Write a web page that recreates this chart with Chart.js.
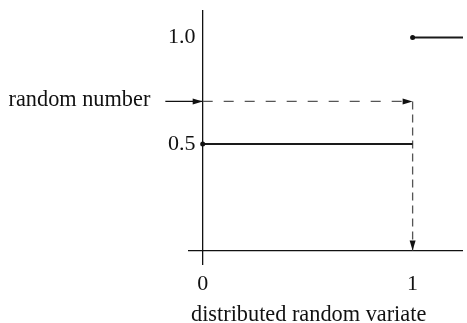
<!DOCTYPE html>
<html>
<head>
<meta charset="utf-8">
<script src="https://cdn.jsdelivr.net/npm/chart.js@4/dist/chart.umd.min.js"></script>
<style>
html,body{margin:0;padding:0;background:#fff;}
canvas{display:block;}
</style>
</head>
<body>
<canvas id="c" width="467" height="323"></canvas>
<script>
// ---- data ----
const xTicks = [0, 1];
const xTickLabels = ['0', '1'];
const yTicks = [0.5, 1.0];
const yTickLabels = ['0.5', '1.0'];
const axisOrigin = 0;
const cdfLow = [{x: 0, y: 0.5}, {x: 1, y: 0.5}];
const cdfHigh = [{x: 1, y: 1.0}, {x: 1.24, y: 1.0}];
const randomNumber = 0.7;
const variate = 1;
const inputArrowStart = -0.178;
const inputLabel = 'random number';
const xTitle = 'distributed random variate';
const xRange = [-0.07, 1.24];
const yRange = [-0.068, 1.129];

const FONT = '"Liberation Serif", "Times New Roman", serif';
const INK = '#111';

const annot = {
  id: 'annot',
  afterDatasetsDraw(chart) {
    const ctx = chart.ctx;
    chart.data.datasets.forEach((ds, i) => {
      if (!ds.arrow) return;
      const pts = chart.getDatasetMeta(i).data;
      const a = pts[pts.length - 2], b = pts[pts.length - 1];
      const ang = Math.atan2(b.y - a.y, b.x - a.x);
      ctx.save();
      ctx.translate(b.x, b.y);
      ctx.rotate(ang);
      ctx.beginPath();
      ctx.moveTo(0, 0);
      ctx.lineTo(-10, -3);
      ctx.lineTo(-10, 3);
      ctx.closePath();
      ctx.fillStyle = INK;
      ctx.fill();
      ctx.restore();
    });
    const xs = chart.scales.x, ys = chart.scales.y;
    ctx.save();
    ctx.font = '22.3px ' + FONT;
    ctx.fillStyle = INK;
    ctx.textBaseline = 'alphabetic';
    ctx.textAlign = 'right';
    ctx.fillText(inputLabel, xs.getPixelForValue(inputArrowStart) - 15, ys.getPixelForValue(randomNumber) + 5);
    ctx.textAlign = 'left';
    ctx.fillText(xTitle, xs.left + 3, chart.height - 2);
    ctx.restore();
  }
};

new Chart(document.getElementById('c'), {
  type: 'scatter',
  data: {
    datasets: [
      {data: cdfLow, showLine: true, borderColor: '#1a1a1a', borderWidth: 2.2,
       pointRadius: [2.5, 0], pointBackgroundColor: INK, pointBorderWidth: 0, clip: false},
      {data: cdfHigh, showLine: true, borderColor: '#1a1a1a', borderWidth: 2.2,
       pointRadius: [2.5, 0], pointBackgroundColor: INK, pointBorderWidth: 0, clip: false},
      {data: [{x: inputArrowStart, y: randomNumber}, {x: axisOrigin, y: randomNumber}], showLine: true,
       borderColor: INK, borderWidth: 1.3, pointRadius: 0, clip: false, arrow: true},
      {data: [{x: axisOrigin, y: randomNumber}, {x: variate, y: randomNumber}], showLine: true,
       borderColor: '#555', borderWidth: 1.3, borderDash: [10, 11], pointRadius: 0, clip: false, arrow: true},
      {data: [{x: variate, y: randomNumber}, {x: variate, y: axisOrigin}], showLine: true,
       borderColor: '#555', borderWidth: 1.3, borderDash: [8, 5], pointRadius: 0, clip: false, arrow: true}
    ]
  },
  options: {
    responsive: false,
    animation: false,
    devicePixelRatio: 1,
    layout: {padding: {top: 10, left: 0, right: 0, bottom: 0}},
    plugins: {legend: {display: false}, tooltip: {enabled: false}},
    scales: {
      x: {
        type: 'linear', min: xRange[0], max: xRange[1],
        afterBuildTicks: s => { s.ticks = xTicks.map(v => ({value: v})); },
        afterFit: s => { s.height = 58; },
        border: {display: false},
        grid: {drawTicks: false, lineWidth: 1.3,
               color: c => (c.tick && c.tick.value === axisOrigin) ? INK : 'rgba(0,0,0,0)'},
        ticks: {autoSkip: false, maxRotation: 0, padding: 6, color: INK,
                font: {family: FONT, size: 22},
                callback: v => xTickLabels[xTicks.indexOf(v)]}
      },
      y: {
        type: 'linear', min: yRange[0], max: yRange[1],
        afterBuildTicks: s => { s.ticks = [axisOrigin, ...yTicks].map(v => ({value: v})); },
        afterFit: s => { s.width = 188; },
        border: {display: false},
        grid: {drawTicks: false, lineWidth: 1.3,
               color: c => (c.tick && c.tick.value === axisOrigin) ? INK : 'rgba(0,0,0,0)'},
        ticks: {autoSkip: false, mirror: true, crossAlign: 'near', padding: -20, color: INK,
                font: {family: FONT, size: 22},
                callback: v => { const k = yTicks.indexOf(v); return k < 0 ? '' : yTickLabels[k]; }}
      }
    }
  },
  plugins: [annot]
});
</script>
</body>
</html>
